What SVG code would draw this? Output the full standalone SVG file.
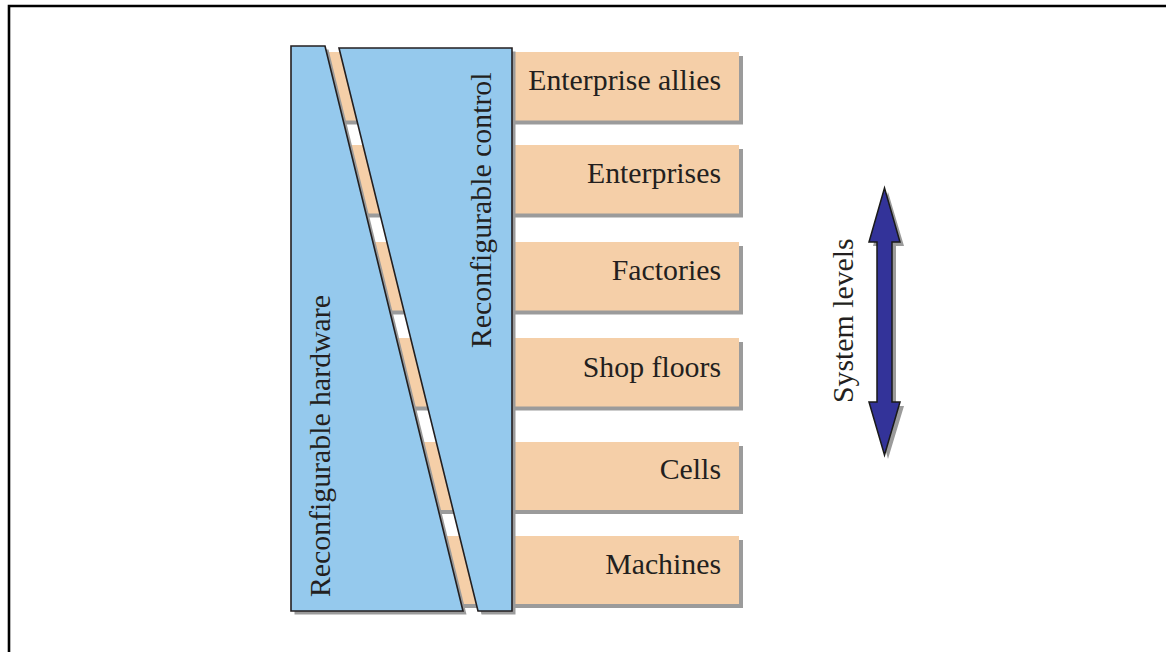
<svg xmlns="http://www.w3.org/2000/svg" width="1166" height="652" viewBox="0 0 1166 652">
<style>
.bar{fill:#f5cfa8}
.sh{fill:#9b9b9b}
.blue{fill:#95c9ed;stroke:#231f20;stroke-width:1.6;stroke-linejoin:miter}
.lbl{font-family:"Liberation Serif","Times New Roman",serif;font-size:29.8px;fill:#231f20}
.arrow{fill:#333399;stroke:#1a1a1a;stroke-width:1.5}
</style>
<rect width="1166" height="652" fill="#ffffff"/>
<path d="M9 652 V6 H1166" fill="none" stroke="#000" stroke-width="2.6"/>

<g id="levels">
  <g id="level-enterprise-allies">
    <rect class="sh" x="304" y="56" width="439" height="68.5"/>
    <rect class="bar" x="300" y="52" width="439" height="68.5"/>
    <text class="lbl" x="721" y="90" text-anchor="end">Enterprise allies</text>
  </g>
  <g id="level-enterprises">
    <rect class="sh" x="304" y="149" width="439" height="68.5"/>
    <rect class="bar" x="300" y="145" width="439" height="68.5"/>
    <text class="lbl" x="721" y="183" text-anchor="end">Enterprises</text>
  </g>
  <g id="level-factories">
    <rect class="sh" x="304" y="246" width="439" height="68.5"/>
    <rect class="bar" x="300" y="242" width="439" height="68.5"/>
    <text class="lbl" x="721" y="280" text-anchor="end">Factories</text>
  </g>
  <g id="level-shop-floors">
    <rect class="sh" x="304" y="342" width="439" height="68.5"/>
    <rect class="bar" x="300" y="338" width="439" height="68.5"/>
    <text class="lbl" x="721" y="377" text-anchor="end">Shop floors</text>
  </g>
  <g id="level-cells">
    <rect class="sh" x="304" y="446" width="439" height="68"/>
    <rect class="bar" x="300" y="442" width="439" height="68"/>
    <text class="lbl" x="721" y="479" text-anchor="end">Cells</text>
  </g>
  <g id="level-machines">
    <rect class="sh" x="304" y="540" width="439" height="68"/>
    <rect class="bar" x="300" y="536" width="439" height="68"/>
    <text class="lbl" x="721" y="574" text-anchor="end">Machines</text>
  </g>
</g>

<g id="reconfigurable-hardware">
  <polygon class="sh" points="294.5,49.5 328.5,49.5 466.5,614.5 294.5,614.5"/>
  <polygon class="blue" points="291,46 325,46 463,611 291,611"/>
  <text class="lbl" transform="translate(330,597) rotate(-90)">Reconfigurable hardware</text>
</g>

<g id="reconfigurable-control">
  <polygon class="sh" points="342.5,51.5 515.5,51.5 515.5,614.5 481.5,614.5"/>
  <polygon class="blue" points="339,48 512,48 512,611 478,611"/>
  <text class="lbl" transform="translate(491,348) rotate(-90)">Reconfigurable control</text>
</g>

<g id="system-levels">
  <polygon class="sh" points="888,192 904,246 896,246 896,406 904,406 888,459 873,406 881,406 881,246 873,246"/>
  <polygon class="arrow" points="884.5,188 900,242 892,242 892,402 900,402 884.5,455 869,402 877,402 877,242 869,242"/>
  <text class="lbl" transform="translate(853,403) rotate(-90)">System levels</text>
</g>
</svg>
